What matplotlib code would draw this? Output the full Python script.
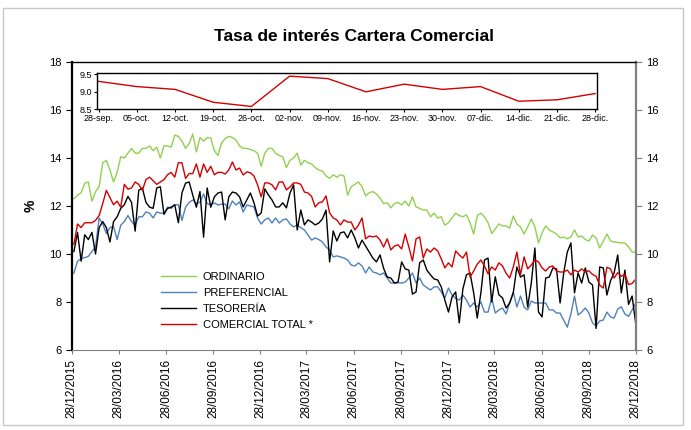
import numpy as np
import pandas as pd
import matplotlib
matplotlib.use("Agg")
import matplotlib.pyplot as plt
import matplotlib.dates as mdates
from matplotlib.patches import Rectangle

plt.rcParams['font.family'] = ['Liberation Sans', 'DejaVu Sans']

# semanas (viernes) hasta 28/12/2018
fechas = pd.date_range(end='2018-12-28', periods=157, freq='7D')

ordinario = [
    12.3, 12.45, 12.55, 12.95, 13.0, 12.2, 12.6, 12.8, 13.8, 13.9, 13.5, 13.0, 13.4,
    14.05, 14.0, 14.2, 14.4, 14.2, 14.2, 14.4, 14.4, 14.5, 14.3, 14.45, 14.0, 14.5,
    14.5, 14.45, 14.95, 14.9, 14.7, 14.4, 14.6, 15.0, 14.25, 14.85, 14.7, 14.85, 14.83,
    14.3, 14.1, 14.63, 14.8, 14.9, 14.85, 14.75, 14.5, 14.4, 14.4, 14.35, 14.3, 14.2,
    13.65, 14.2, 14.4, 14.4, 14.2, 14.1, 14.05, 13.6, 13.9, 14.0, 14.2, 13.7, 13.9,
    13.8, 13.75, 13.6, 13.5, 13.45, 13.25, 13.15, 13.3, 13.2, 13.3, 13.25, 12.45, 12.8,
    12.9, 13.0, 12.8, 12.42, 12.55, 12.6, 12.5, 12.33, 12.1, 12.13, 11.92, 12.1, 12.15,
    12.04, 12.2, 12.0, 12.38, 11.96, 11.9, 11.83, 11.83, 11.55, 11.7, 11.5, 11.55, 11.2,
    11.3, 11.5, 11.7, 11.6, 11.55, 11.63, 11.3, 10.83, 11.6, 11.7, 11.55, 11.3, 10.85,
    11.05, 11.25, 11.17, 11.17, 11.08, 11.58, 11.25, 11.13, 10.83, 11.13, 11.46, 11.13,
    10.46, 10.88, 11.17, 11.0, 10.92, 10.83, 10.67, 10.71, 10.63, 10.71, 11.0, 10.71,
    10.75, 10.6, 10.54, 10.79, 10.67, 10.25, 10.54, 10.83, 10.54, 10.5, 10.48, 10.46,
    10.46, 10.3, 10.08, 10.08,
]

preferencial = [
    9.2, 9.7, 9.8, 9.85, 9.9, 10.1, 10.3, 11.5, 11.25, 10.85, 11.1, 11.15, 10.6, 11.2,
    11.35, 11.6, 11.35, 11.2, 11.55, 11.55, 11.75, 11.7, 11.5, 11.75, 11.7, 11.7, 11.95,
    11.9, 12.05, 12.05, 11.4, 11.95, 12.15, 12.25, 12.1, 12.15, 12.5, 12.1, 12.05,
    12.13, 12.04, 12.08, 12.08, 11.88, 12.21, 12.04, 12.17, 11.75, 12.04, 12.0, 11.96,
    11.5, 11.25, 11.42, 11.5, 11.29, 11.5, 11.29, 11.42, 11.46, 11.25, 11.13, 11.21,
    11.1, 11.0, 10.79, 10.58, 10.67, 10.6, 10.5, 10.29, 10.17, 9.88, 9.92, 9.88, 9.83,
    9.75, 9.54, 9.5, 9.63, 9.5, 9.21, 9.46, 9.25, 9.21, 9.13, 9.21, 9.0, 8.79, 8.79,
    8.8, 8.79, 8.83, 9.0, 9.21, 8.8, 9.0, 8.71, 8.6, 8.5, 8.63, 8.63, 8.42, 8.17, 8.58,
    8.29, 8.15, 8.08, 8.29, 8.08, 7.79, 7.96, 7.79, 8.0, 7.58, 7.58, 8.17, 7.54, 7.67,
    7.75, 7.5, 7.96, 8.42, 7.79, 8.25, 7.79, 7.67, 8.04, 7.96, 7.96, 7.96, 7.96, 7.67,
    7.67, 7.54, 7.54, 7.25, 6.95, 7.5, 8.25, 7.46, 7.58, 7.75, 7.54, 7.13, 7.0, 7.21,
    7.25, 7.58, 7.38, 7.33, 7.7, 7.8, 7.5, 7.4, 7.67, 7.95,
]

tesoreria = [
    10.1, 10.9, 9.7, 10.8, 10.6, 10.9, 10.0, 11.1, 11.35, 11.1, 10.5, 11.35, 11.55,
    11.9, 12.05, 12.4, 12.15, 10.95, 12.65, 12.75, 12.15, 11.95, 11.9, 12.75, 12.8,
    11.65, 11.9, 11.95, 12.05, 11.3, 12.55, 12.95, 13.0, 12.45, 11.95, 12.6, 10.7,
    12.75, 11.95, 12.38, 12.54, 12.58, 11.42, 12.38, 12.58, 12.54, 12.38, 11.96, 12.25,
    12.54, 12.13, 11.58, 11.71, 12.71, 12.46, 12.25, 11.96, 11.96, 12.13, 11.92, 12.54,
    12.88, 11.0, 11.83, 11.21, 11.42, 11.33, 11.21, 11.29, 11.46, 11.83, 9.67, 10.96,
    10.54, 10.88, 10.92, 10.67, 11.0, 10.67, 10.25, 10.58, 10.33, 10.08, 9.83, 9.67,
    9.96, 9.4, 9.04, 9.0, 8.79, 8.83, 9.67, 9.38, 9.33, 8.33, 8.42, 9.63, 9.75, 9.33,
    9.13, 8.96, 8.92, 8.63, 8.08, 7.58, 8.21, 8.42, 7.13, 8.54, 9.13, 9.21, 8.38, 7.33,
    8.38, 9.75, 9.83, 8.0, 9.05, 8.3, 8.17, 7.75, 7.96, 8.38, 9.46, 9.04, 9.13, 7.79,
    8.79, 10.25, 7.58, 7.38, 9.0, 9.04, 9.42, 9.38, 7.96, 9.21, 10.08, 10.46, 8.38,
    9.21, 8.79, 9.42, 8.83, 8.71, 6.9, 9.46, 9.42, 8.29, 8.88, 9.21, 9.96, 8.38, 9.33,
    7.9, 8.25, 7.1,
]

# ultimas 14 semanas (detalle del recuadro)
semanas_detalle = ['28-sep.', '05-oct.', '12-oct.', '19-oct.', '26-oct.', '02-nov.', '09-nov.',
                   '16-nov.', '23-nov.', '30-nov.', '07-dic.', '14-dic.', '21-dic.', '28-dic.']
comercial_detalle = [9.3, 9.15, 9.07, 8.7, 8.58, 9.45, 9.38, 9.0, 9.22, 9.07, 9.15, 8.73, 8.77, 8.95]

comercial_total = [
    10.4, 11.25, 11.1, 11.3, 11.3, 11.3, 11.4, 11.6, 12.1, 12.65, 12.35, 12.05, 12.2,
    11.95, 12.9, 12.7, 12.75, 13.0, 12.9, 12.65, 13.1, 13.2, 13.05, 12.9, 13.0, 13.1,
    13.3, 13.4, 13.2, 13.8, 13.8, 13.15, 13.35, 13.35, 13.75, 13.2, 13.75, 13.4, 13.65,
    13.3, 13.4, 13.4, 13.33, 13.5, 13.83, 13.5, 13.58, 13.29, 13.42, 13.38, 13.25,
    12.88, 12.38, 12.96, 12.96, 12.88, 12.67, 13.0, 13.0, 12.67, 12.79, 12.96, 12.96,
    12.9, 12.58, 12.54, 12.4, 11.96, 12.13, 12.17, 12.42, 11.71, 11.5, 11.42, 11.21,
    11.42, 11.33, 11.33, 11.0, 11.2, 11.5, 10.63, 10.75, 10.71, 10.75, 10.58, 10.29,
    10.63, 10.17, 10.33, 10.38, 10.21, 10.83, 10.29, 9.71, 10.63, 10.71, 9.83, 10.21,
    10.08, 10.25, 10.13, 9.8, 9.42, 9.63, 9.46, 10.13, 9.96, 9.83, 10.08, 9.04, 9.29,
    9.58, 9.75, 9.5, 9.17, 9.46, 9.33, 9.63, 9.5, 9.2, 9.0, 9.46, 10.08, 9.13, 9.88,
    9.38, 9.54, 9.75, 9.67, 9.42, 9.29, 9.46, 9.5, 9.29, 9.25, 9.25, 9.33, 9.13, 9.33,
    9.25, 9.38, 9.25,
] + comercial_detalle

tick_fechas = pd.date_range('2015-12-01', '2018-12-01', freq='3MS') + pd.Timedelta(days=27)

fig = plt.figure(figsize=(6.91, 4.30), dpi=100)
fig.patches.append(Rectangle((0.005, 0.012), 0.984, 0.97, transform=fig.transFigure,
                             fill=False, edgecolor='#c8c8c8', lw=1))

ax = fig.add_axes([0.104, 0.186, 0.816, 0.670])
ax.plot(fechas, ordinario, color='#92D050', lw=1.0, label='ORDINARIO')
ax.plot(fechas, preferencial, color='#4F81BD', lw=1.0, label='PREFERENCIAL')
ax.plot(fechas, tesoreria, color='black', lw=1.0, label='TESORERÍA')
ax.plot(fechas, comercial_total, color='#D40000', lw=1.0, label='COMERCIAL TOTAL *')

ax.set_xlim(pd.Timestamp('2015-12-28'), pd.Timestamp('2018-12-28'))
ax.set_ylim(6, 18)
ax.set_yticks(range(6, 19, 2))
ax.set_xticks(tick_fechas)
ax.xaxis.set_major_formatter(mdates.DateFormatter('%d/%m/%Y'))
ax.tick_params(axis='x', rotation=90, labelsize=8.5, length=3, color='#808080')
ax.tick_params(axis='y', labelsize=8, length=4)
ax.set_ylabel('%', fontsize=10, fontweight='bold', labelpad=8)
ax.spines['left'].set_linewidth(1.6)
ax.spines['top'].set_linewidth(1.0)
ax.spines['bottom'].set_color('#808080')
ax.spines['right'].set_color('#808080')
ax.spines['right'].set_linewidth(1.6)

ax2 = ax.twinx()
ax2.set_ylim(6, 18)
ax2.set_yticks(range(6, 19, 2))
ax2.tick_params(axis='y', labelsize=8, length=4, color='#808080')
for s in ax2.spines.values():
    s.set_visible(False)

fig.text(0.512, 0.915, 'Tasa de interés Cartera Comercial', ha='center', va='center',
         fontsize=12.5, fontweight='bold')

ax.legend(loc='upper left', bbox_to_anchor=(0.218, 0.39), bbox_transform=fig.transFigure,
          frameon=False, fontsize=8, handlelength=3.2, labelspacing=0.52, handletextpad=0.6)

# recuadro ultimas semanas
axi = fig.add_axes([0.140, 0.746, 0.724, 0.085])
axi.plot(range(len(comercial_detalle)), comercial_detalle, color='#D40000', lw=1.0)
axi.set_xlim(-0.05, len(comercial_detalle) - 0.95)
axi.set_ylim(8.5, 9.55)
axi.set_yticks([8.5, 9.0, 9.5])
axi.set_yticklabels(['8.5', '9.0', '9.5'])
axi.set_xticks(range(len(semanas_detalle)))
axi.set_xticklabels(semanas_detalle)
axi.tick_params(labelsize=6.5, length=2, pad=1.5)
for s in axi.spines.values():
    s.set_linewidth(1.0)

fig.savefig('out.png', dpi=100)
